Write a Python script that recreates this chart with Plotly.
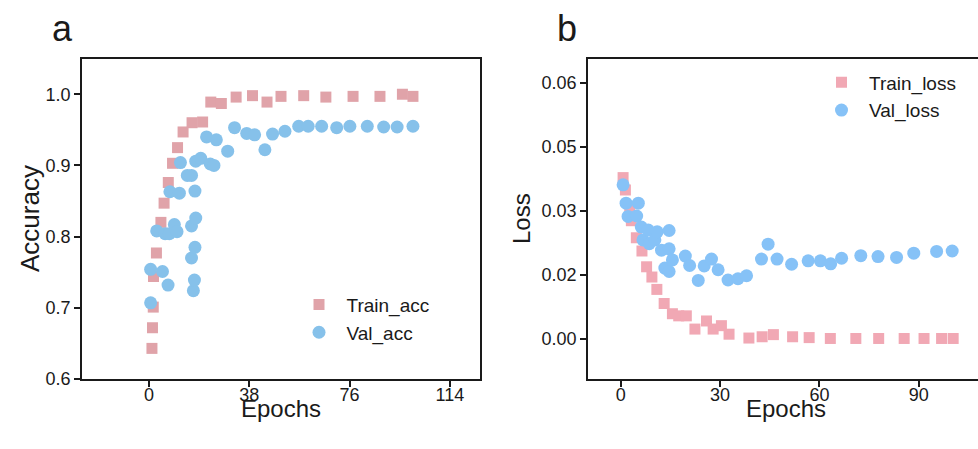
import plotly.graph_objects as go

# ---- panel a: accuracy ----
train_acc_epoch = [1.1, 1.3, 1.6, 1.7, 2.8, 4.5, 5.7, 7.3, 8.9, 10.8, 12.9, 16.3, 20.3,
                   23.4, 27.4, 33.0, 39.2, 44.7, 50.0, 58.6, 67.0, 77.3, 87.5, 96.0, 100.0]
train_acc = [0.643, 0.672, 0.701, 0.744, 0.777, 0.820, 0.847, 0.876, 0.903, 0.925, 0.947,
             0.960, 0.961, 0.989, 0.987, 0.996, 0.998, 0.989, 0.997, 0.998, 0.996, 0.997,
             0.997, 1.000, 0.997]

val_acc_epoch = [0.6, 0.6, 2.9, 5.1, 6.1, 7.2, 7.7, 7.9, 9.6, 10.6, 11.5, 11.9, 14.5, 16.1,
                 16.1, 16.1, 16.8, 17.2, 17.4, 17.4, 17.7, 17.7, 19.6, 21.8, 23.2, 24.6,
                 25.5, 29.8, 32.4, 37.0, 40.0, 43.9, 46.8, 51.5, 56.7, 60.3, 65.4, 71.1,
                 76.1, 82.7, 88.9, 94.0, 100.0]
val_acc = [0.707, 0.754, 0.808, 0.751, 0.804, 0.732, 0.804, 0.863, 0.817, 0.807, 0.861,
           0.904, 0.886, 0.886, 0.815, 0.770, 0.724, 0.739, 0.785, 0.864, 0.826, 0.906,
           0.910, 0.940, 0.902, 0.900, 0.936, 0.920, 0.953, 0.945, 0.943, 0.922, 0.944,
           0.948, 0.955, 0.955, 0.955, 0.953, 0.955, 0.955, 0.954, 0.954, 0.955]

# ---- panel b: loss ----
train_loss_epoch = [0.7, 1.4, 2.7, 3.2, 4.7, 6.4, 7.8, 9.4, 10.9, 13.1, 15.6, 17.5, 19.8,
                    22.4, 25.9, 27.9, 30.4, 32.7, 38.7, 42.7, 46.1, 51.9, 56.9, 63.3, 71.0,
                    77.9, 85.6, 91.6, 96.9, 100.4]
train_loss = [0.0378, 0.0349, 0.0310, 0.0277, 0.0237, 0.0206, 0.0169, 0.0145, 0.0116,
              0.0083, 0.0059, 0.0054, 0.0054, 0.0023, 0.0042, 0.0023, 0.0031, 0.0011,
              0.0002, 0.0005, 0.0010, 0.0005, 0.0003, 0.0001, 0.0001, 0.0001, 0.0001,
              0.0001, 0.0001, 0.0001]

val_loss_epoch = [0.7, 1.6, 2.2, 4.8, 5.3, 6.2, 6.7, 8.3, 8.6, 10.3, 11.0, 12.3, 13.3, 14.6,
                  14.6, 14.6, 15.6, 19.5, 20.8, 23.4, 25.2, 27.4, 29.4, 32.4, 35.4, 38.0,
                  42.5, 44.5, 47.2, 51.6, 56.6, 60.3, 63.4, 66.7, 72.5, 77.7, 83.3, 88.5,
                  95.4, 100.1]
val_loss = [0.0361, 0.0318, 0.0287, 0.0288, 0.0318, 0.0262, 0.0232, 0.0255, 0.0223,
            0.0232, 0.0251, 0.0208, 0.0166, 0.0254, 0.0211, 0.0158, 0.0185, 0.0194,
            0.0172, 0.0137, 0.0171, 0.0187, 0.0162, 0.0138, 0.0141, 0.0148, 0.0187,
            0.0222, 0.0187, 0.0175, 0.0183, 0.0183, 0.0176, 0.0189, 0.0195, 0.0193,
            0.0191, 0.0201, 0.0205, 0.0206]

acc_ticks = [0.6, 0.7, 0.8, 0.9, 1.0]
acc_ticktext = ["0.6", "0.7", "0.8", "0.9", "1.0"]
loss_ticks = [0.0, 0.015, 0.03, 0.045, 0.06]
loss_ticktext = ["0.00", "0.02", "0.03", "0.05", "0.06"]
epoch_ticks_a = [0, 38, 76, 114]
epoch_ticks_b = [0, 30, 60, 90]

W, H = 978, 459
SY = H / 449.0  # vertical layout unit
FONT = "Liberation Sans, Arial, sans-serif"


def py(px):
    """Convert a pixel offset from the top edge into paper coordinates."""
    return 1 - px * SY / H


fig = go.Figure()

fig.add_trace(go.Scatter(x=train_acc_epoch, y=train_acc, mode="markers", name="Train_acc",
                         marker=dict(symbol="square", size=11, color="rgb(224,163,169)"),
                         xaxis="x", yaxis="y", legend="legend"))
fig.add_trace(go.Scatter(x=val_acc_epoch, y=val_acc, mode="markers", name="Val_acc",
                         marker=dict(symbol="circle", size=13, color="rgb(134,193,234)"),
                         xaxis="x", yaxis="y", legend="legend"))
fig.add_trace(go.Scatter(x=train_loss_epoch, y=train_loss, mode="markers", name="Train_loss",
                         marker=dict(symbol="square", size=11, color="rgb(241,168,180)"),
                         xaxis="x2", yaxis="y2", legend="legend2"))
fig.add_trace(go.Scatter(x=val_loss_epoch, y=val_loss, mode="markers", name="Val_loss",
                         marker=dict(symbol="circle", size=13, color="rgb(134,194,247)"),
                         xaxis="x2", yaxis="y2", legend="legend2"))

axis_common = dict(showgrid=False, zeroline=False, showline=True, linecolor="#1a1a1a",
                   linewidth=1.5, ticks="outside", ticklen=6, tickwidth=1.5,
                   tickcolor="#1a1a1a", tickfont=dict(family=FONT, size=18, color="#1a1a1a"))

ydom = [py(379), py(59)]

fig.update_layout(
    width=W, height=H,
    margin=dict(l=0, r=0, t=0, b=0),
    paper_bgcolor="white", plot_bgcolor="white",
    font=dict(family=FONT, color="#1a1a1a"),
    xaxis=dict(domain=[82 / W, 480 / W], range=[-25.4, 125.4], tickvals=epoch_ticks_a,
               mirror=True, anchor="y", ticklabelstandoff=-7, **axis_common),
    yaxis=dict(domain=ydom, range=[0.6, 1.0495], tickvals=acc_ticks, ticktext=acc_ticktext,
               mirror=True, anchor="x", **axis_common),
    xaxis2=dict(domain=[588 / W, 1.0], range=[-9.9, 107.9], tickvals=epoch_ticks_b,
                mirror=True, anchor="y2", ticklabelstandoff=-7, **axis_common),
    yaxis2=dict(domain=ydom, range=[-0.0094, 0.0656], tickvals=loss_ticks,
                ticktext=loss_ticktext, mirror=False, anchor="x2", **axis_common),
    legend=dict(x=291.5 / W, y=py(285.7), xanchor="left", yanchor="top",
                bgcolor="rgba(0,0,0,0)", itemwidth=45,
                font=dict(family=FONT, size=19, color="#1a1a1a")),
    legend2=dict(x=814 / W, y=py(63.5), xanchor="left", yanchor="top",
                 bgcolor="rgba(0,0,0,0)", itemwidth=45,
                 font=dict(family=FONT, size=19, color="#1a1a1a")),
    showlegend=True,
)

annots = [
    dict(text="a", x=62, y=28, size=36),
    dict(text="b", x=567, y=28, size=36),
    dict(text="Epochs", x=281, y=408, size=24),
    dict(text="Epochs", x=786, y=408, size=24),
]
for a in annots:
    fig.add_annotation(text=a["text"], x=a["x"] / W, y=py(a["y"]), xref="paper",
                       yref="paper", xanchor="center", yanchor="middle", showarrow=False,
                       font=dict(family=FONT, size=a["size"], color="#1a1a1a"))
for label, xc, size in (("Accuracy", 30, 26), ("Loss", 521, 24)):
    fig.add_annotation(text=label, x=xc / W, y=py(219), xref="paper", yref="paper",
                       xanchor="center", yanchor="middle", showarrow=False, textangle=-90,
                       font=dict(family=FONT, size=size, color="#1a1a1a"))

fig.write_html("out.html")
